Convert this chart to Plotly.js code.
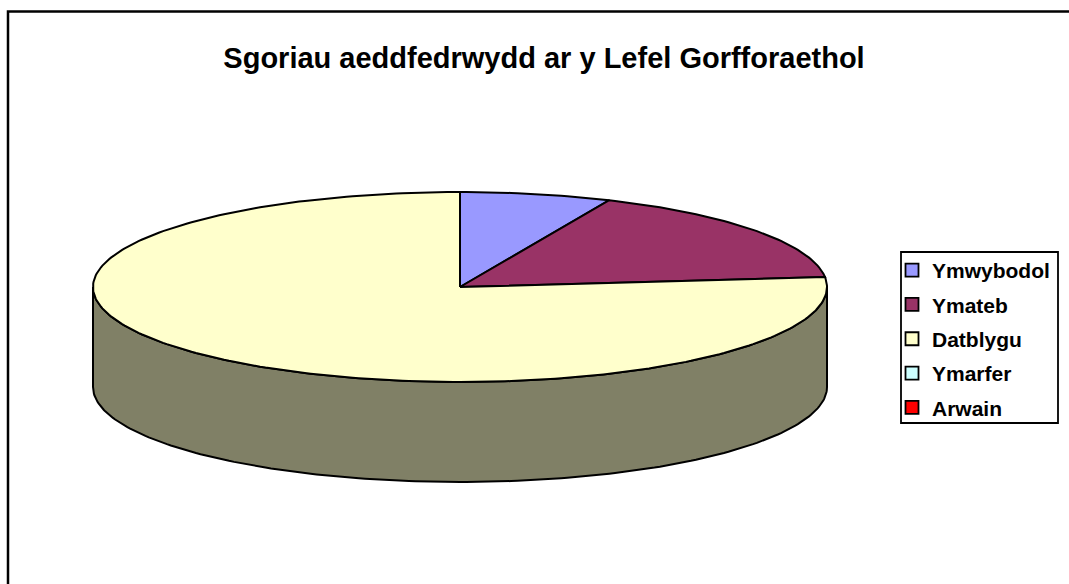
<!DOCTYPE html>
<html>
<head>
<meta charset="utf-8">
<script src="https://cdn.plot.ly/plotly-3.0.1.min.js"></script>
<style>html,body{margin:0;padding:0;background:#fff;}#chart{width:1069px;height:584px;}</style>
</head>
<body>
<div id="chart"></div>
<script>
// ---- data ----
const categories = ['Ymwybodol', 'Ymateb', 'Datblygu', 'Ymarfer', 'Arwain'];
const values = [2, 5, 23, 0, 0];
const colors = ['#9999FF', '#993366', '#FFFFCC', '#CCFFFF', '#FF0000'];
const chartTitle = 'Sgoriau aeddfedrwydd ar y Lefel Gorfforaethol';

// ---- geometry (style) ----
const W = 1069, H = 584;
const cx = 460, cy = 287, rx = 367, ry = 95, depth = 100;

function shade(hex, f) {
  const n = parseInt(hex.slice(1), 16);
  const r = Math.round(((n >> 16) & 255) * f), g = Math.round(((n >> 8) & 255) * f), b = Math.round((n & 255) * f);
  return 'rgb(' + r + ',' + g + ',' + b + ')';
}
function pt(tDeg, dy) {
  const t = tDeg * Math.PI / 180;
  return [cx + rx * Math.sin(t), cy - ry * Math.cos(t) + (dy || 0)];
}
function arc(a, b, dy) {
  const pts = [];
  const n = Math.max(2, Math.ceil(Math.abs(b - a)));
  for (let i = 0; i <= n; i++) pts.push(pt(a + (b - a) * i / n, dy));
  return pts;
}

const total = values.reduce((s, v) => s + v, 0);
const slices = [];
let acc = 0;
values.forEach((v, i) => {
  const t0 = acc / total * 360;
  acc += v;
  const t1 = acc / total * 360;
  slices.push({ i, t0, t1, v });
});

const traces = [];
// side walls (front half: 90..270 deg)
slices.forEach(s => {
  if (s.v <= 0) return;
  const a = Math.max(s.t0, 90), b = Math.min(s.t1, 270);
  if (b <= a) return;
  const top = arc(a, b, 0);
  const bot = arc(b, a, depth);
  const pts = top.concat(bot);
  pts.push(top[0]);
  traces.push({
    type: 'scatter', mode: 'lines', fill: 'toself',
    x: pts.map(p => p[0]), y: pts.map(p => p[1]),
    fillcolor: shade(colors[s.i], 0.5),
    line: { color: '#000', width: 2 },
    hoverinfo: 'skip', showlegend: false
  });
});
// top faces
slices.forEach(s => {
  if (s.v <= 0) return;
  const pts = [[cx, cy]].concat(arc(s.t0, s.t1, 0));
  pts.push([cx, cy]);
  traces.push({
    type: 'scatter', mode: 'lines', fill: 'toself',
    x: pts.map(p => p[0]), y: pts.map(p => p[1]),
    fillcolor: colors[s.i],
    line: { color: '#000', width: 2 },
    name: categories[s.i], hoverinfo: 'name', showlegend: false
  });
});
// legend entries
categories.forEach((c, i) => {
  traces.push({
    type: 'scatter', mode: 'markers', x: [null], y: [null],
    name: c, legendgroup: 'g' + i,
    marker: { symbol: 'square', size: 13, color: colors[i], line: { color: '#000', width: 1.8 } },
    showlegend: true, hoverinfo: 'skip'
  });
});

const layout = {
  width: W, height: H,
  margin: { l: 0, r: 0, t: 0, b: 0 },
  paper_bgcolor: '#fff', plot_bgcolor: '#fff',
  xaxis: { range: [0, W], visible: false, fixedrange: true },
  yaxis: { range: [H, 0], visible: false, fixedrange: true },
  title: {
    text: '<b>' + chartTitle + '</b>',
    font: { family: 'Arial, "Liberation Sans", sans-serif', size: 29, color: '#000' },
    x: 544 / W, xanchor: 'center', y: 1 - 58 / H, yanchor: 'middle'
  },
  showlegend: true,
  legend: {
    x: 892 / W, xanchor: 'left', y: 1 - 250 / H, yanchor: 'top',
    borderwidth: 0, bgcolor: 'rgba(0,0,0,0)',
    font: { family: 'Arial, "Liberation Sans", sans-serif', size: 21, color: '#000', weight: 'bold' },
    tracegroupgap: 4, traceorder: 'grouped', itemclick: false, itemdoubleclick: false
  },
  shapes: [{
    type: 'rect', xref: 'paper', yref: 'paper',
    x0: 8 / W, x1: 1.02, y0: -0.02, y1: 1 - 11.5 / H,
    line: { color: '#000', width: 2.5 }, fillcolor: 'rgba(0,0,0,0)', layer: 'below'
  }, {
    type: 'rect', xref: 'x', yref: 'y',
    x0: 901, x1: 1058, y0: 252, y1: 423,
    line: { color: '#000', width: 1.8 }, fillcolor: '#fff', layer: 'below'
  }]
};

Plotly.newPlot('chart', traces, layout, { staticPlot: true, displayModeBar: false });
</script>
</body>
</html>
